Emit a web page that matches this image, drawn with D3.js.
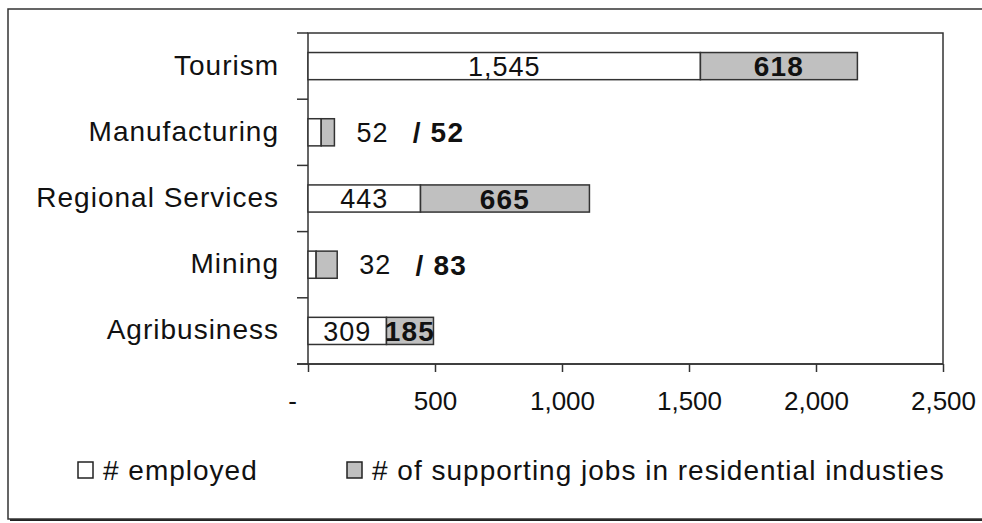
<!DOCTYPE html>
<html>
<head>
<meta charset="utf-8">
<script src="https://cdn.jsdelivr.net/npm/d3@7"></script>
<style>
  body { margin: 0; background: #fff; }
  svg { display: block; font-family: Arial, 'Liberation Sans', sans-serif; }
</style>
</head>
<body>
<div id="chart"></div>
<script>
var categories = ['Tourism', 'Manufacturing', 'Regional Services', 'Mining', 'Agribusiness'];
var employed = [1545, 52, 443, 32, 309];
var supporting = [618, 52, 665, 83, 185];
var xTicks = [0, 500, 1000, 1500, 2000, 2500];
var seriesNames = ['# employed', '# of supporting jobs in residential industies'];

var W = 982, H = 523;
var margins = { left: 308, right: 39, top: 33, bottom: 159 };
var width = W - margins.left - margins.right,
    height = H - margins.top - margins.bottom;

var svg = d3.select('#chart').append('svg').attr('width', W).attr('height', H);

// outer frame with shadow
svg.append('rect').attr('x', 10).attr('y', 11).attr('width', W).attr('height', 510).style('fill', '#222');
svg.append('rect').attr('x', 8).attr('y', 9).attr('width', W).attr('height', 510)
    .style('fill', 'white').style('stroke', '#333').style('stroke-width', 1.5);

var x = d3.scaleLinear().domain([0, 2500]).range([margins.left, margins.left + width]);
var y = d3.scaleBand().domain(categories).range([margins.top, margins.top + height]).paddingInner(0.59).paddingOuter(0.295);
var yb = d3.scaleBand().domain(categories).range([margins.top, margins.top + height]);

var fmt = function(v) { return v === 0 ? '-' : d3.format(',')(v); };

// plot box
svg.append('rect').attr('x', margins.left).attr('y', margins.top).attr('width', width).attr('height', height)
    .style('fill', 'none').style('stroke', '#333').style('stroke-width', 1.5);

// x axis
var xAxis = svg.append('g').attr('transform', 'translate(0,' + (margins.top + height) + ')')
    .call(d3.axisBottom(x).tickValues(xTicks).tickSize(8).tickPadding(20).tickFormat(fmt));
xAxis.select('.domain').attr('d', 'M' + (margins.left - 11) + ',0H' + (margins.left + width));
xAxis.selectAll('line, path').style('stroke', '#333').style('stroke-width', 1.5);
xAxis.selectAll('text').style('font-size', '26px').style('fill', '#111')
    .style('font-family', 'Arial, "Liberation Sans", sans-serif');
xAxis.selectAll('text').filter(function(d) { return d === 0; }).attr('dx', '-16');

// y ticks at band boundaries
var bounds = categories.map(function(c) { return yb(c); }).concat([margins.top + height]);
svg.selectAll('.ytick').data(bounds).enter().append('line')
    .attr('x1', margins.left - 11).attr('x2', margins.left)
    .attr('y1', function(d) { return d; }).attr('y2', function(d) { return d; })
    .style('stroke', '#333').style('stroke-width', 1.5);

// category labels
svg.selectAll('.cat').data(categories).enter().append('text')
    .attr('x', 279).attr('y', function(d) { return yb(d) + yb.bandwidth() / 2; })
    .attr('dy', '0.3em').style('text-anchor', 'end').style('font-size', '28px').style('fill', '#111')
    .style('letter-spacing', '1px')
    .text(function(d) { return d; });

var rows = categories.map(function(c, i) { return { cat: c, emp: employed[i], sup: supporting[i] }; });

// bars
svg.selectAll('.emp').data(rows).enter().append('rect')
    .attr('x', x(0)).attr('y', function(d) { return y(d.cat); })
    .attr('width', function(d) { return x(d.emp) - x(0); }).attr('height', y.bandwidth())
    .style('fill', 'white').style('stroke', '#333').style('stroke-width', 1.5);
svg.selectAll('.sup').data(rows).enter().append('rect')
    .attr('x', function(d) { return x(d.emp); }).attr('y', function(d) { return y(d.cat); })
    .attr('width', function(d) { return x(d.emp + d.sup) - x(d.emp); }).attr('height', y.bandwidth())
    .style('fill', '#c0c0c0').style('stroke', '#333').style('stroke-width', 1.5);

// value labels
rows.forEach(function(d) {
  var cy = y(d.cat) + y.bandwidth() / 2;
  var small = x(d.emp + d.sup) - x(0) < 60;
  var end = x(d.emp + d.sup);
  svg.append('text')
      .attr('x', small ? end + 38 : (x(0) + x(d.emp)) / 2).attr('y', cy).attr('dy', '0.36em')
      .style('text-anchor', 'middle').style('font-size', '27px').style('fill', '#111')
      .style('letter-spacing', '1px')
      .text(fmt(d.emp));
  svg.append('text')
      .attr('x', small ? end + 104 : (x(d.emp) + end) / 2).attr('y', cy).attr('dy', '0.36em')
      .style('text-anchor', 'middle').style('font-size', '28px').style('font-weight', 'bold').style('fill', '#111')
      .style('letter-spacing', '1.2px')
      .text(small ? '/ ' + fmt(d.sup) : fmt(d.sup));
});

// legend
var legend = svg.append('g').attr('transform', 'translate(0,470)');
var legX = [78, 347];
var legFill = ['white', '#c0c0c0'];
seriesNames.forEach(function(name, i) {
  legend.append('rect').attr('x', legX[i]).attr('y', -8).attr('width', 15).attr('height', 16)
      .style('fill', legFill[i]).style('stroke', '#222').style('stroke-width', 1.5);
  legend.append('text').attr('x', legX[i] + 25).attr('y', 0).attr('dy', '0.35em')
      .style('font-size', '28px').style('fill', '#111').style('letter-spacing', '1px')
      .text(name);
});
</script>
</body>
</html>
